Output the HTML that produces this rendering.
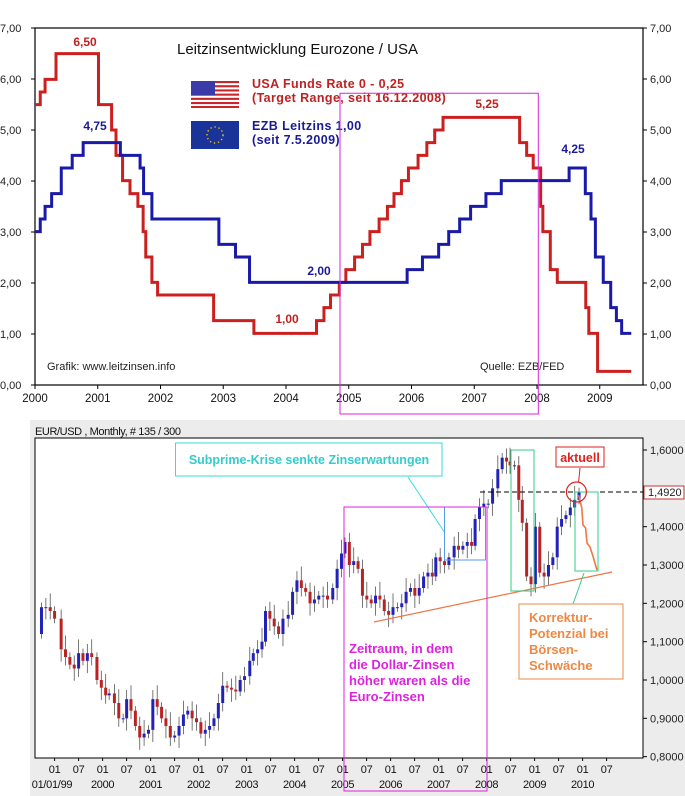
<!DOCTYPE html>
<html><head><meta charset="utf-8"><style>
html,body{margin:0;padding:0;background:#fff;}
svg{display:block;font-family:"Liberation Sans",Arial,sans-serif;}
</style></head><body>
<svg id="s" width="685" height="796" viewBox="0 0 685 796" xmlns="http://www.w3.org/2000/svg">
<rect x="0" y="0" width="685" height="796" fill="#fff"/>
<rect x="35" y="28" width="608" height="357" fill="#fff" stroke="#000" stroke-width="1.2"/>
<g font-size="11" fill="#222">
<text x="0" y="32">7,00</text><text x="0" y="83">6,00</text><text x="0" y="134">5,00</text><text x="0" y="185">4,00</text><text x="0" y="236">3,00</text><text x="0" y="287">2,00</text><text x="0" y="338">1,00</text><text x="0" y="389">0,00</text>
<text x="650" y="32">7,00</text><text x="650" y="83">6,00</text><text x="650" y="134">5,00</text><text x="650" y="185">4,00</text><text x="650" y="236">3,00</text><text x="650" y="287">2,00</text><text x="650" y="338">1,00</text><text x="650" y="389">0,00</text>
</g>
<g stroke="#000" stroke-width="1" id="ticksTop"></g>
<g font-size="11.5" fill="#111" text-anchor="middle" id="yearsTop"></g>
<g transform="translate(35,0) scale(0.4378,0.33333) translate(-80,0)" fill="none">
<path vector-effect="non-scaling-stroke" stroke="#cc2020" stroke-width="3" d="M80 314 H92 V276 H103 V238 H128 V161 H225 V314 H255 V390 H265 V466 H280 V542 H297 V581 H315 V619 H327 V695 H333 V771 H347 V847 H360 V885 H488 V962 H580 V1000 H723 V962 H740 V923 H755 V885 H775 V847 H790 V809 H810 V771 H828 V733 H845 V695 H866 V657 H885 V619 H900 V581 H917 V542 H933 V504 H955 V466 H975 V428 H993 V390 H1012 V352 H1187 V428 H1203 V466 H1218 V504 H1235 V619 H1240 V695 H1257 V809 H1273 V847 H1338 V923 H1345 V1000 H1365 V1114 H1442"/>
<path vector-effect="non-scaling-stroke" stroke="#1a1aa8" stroke-width="3" d="M80 695 H92 V657 H103 V619 H118 V581 H140 V504 H165 V466 H190 V428 H275 V466 H320 V504 H328 V581 H347 V657 H500 V733 H538 V771 H570 V847 H930 V809 H965 V771 H1002 V733 H1025 V695 H1050 V657 H1075 V619 H1110 V581 H1145 V542 H1300 V504 H1337 V581 H1350 V657 H1360 V771 H1378 V847 H1395 V923 H1408 V962 H1420 V1000 H1442"/>
</g>
<text x="177" y="54" font-size="15" fill="#111">Leitzinsentwicklung Eurozone / USA</text>
<g>
<rect x="191" y="81" width="48" height="27" fill="#fff"/>
<g fill="#c8262b"><rect x="191" y="81" width="48" height="2.1"/><rect x="191" y="85.2" width="48" height="2.1"/><rect x="191" y="89.4" width="48" height="2.1"/><rect x="191" y="93.6" width="48" height="2.1"/><rect x="191" y="97.8" width="48" height="2.1"/><rect x="191" y="102" width="48" height="2.1"/><rect x="191" y="106" width="48" height="2"/></g>
<rect x="191" y="81" width="24" height="14.5" fill="#3b3ba8"/>
</g>
<rect x="191" y="121" width="48" height="28" fill="#1a3399"/>
<circle cx="215" cy="135" r="8" fill="none" stroke="#ffdd00" stroke-width="1.3" stroke-dasharray="1.3 2.8"/>
<g font-size="12.5" font-weight="bold" letter-spacing="0.4">
<text x="252" y="88" fill="#c02020">USA Funds Rate 0 - 0,25</text>
<text x="252" y="102" fill="#c02020">(Target Range, seit 16.12.2008)</text>
<text x="252" y="130" fill="#1a1a99">EZB Leitzins 1,00</text>
<text x="252" y="144" fill="#1a1a99">(seit 7.5.2009)</text>
</g>
<g font-size="12" font-weight="bold" text-anchor="middle">
<text x="85" y="46" fill="#c02020">6,50</text>
<text x="95" y="130" fill="#1a1a99">4,75</text>
<text x="319" y="275" fill="#1a1a99">2,00</text>
<text x="287" y="323" fill="#c02020">1,00</text>
<text x="487" y="108" fill="#c02020">5,25</text>
<text x="573" y="153" fill="#1a1a99">4,25</text>
</g>
<text x="47" y="370" font-size="11" fill="#222">Grafik: www.leitzinsen.info</text>
<text x="480" y="370" font-size="11" fill="#222">Quelle: EZB/FED</text>

<rect x="30" y="420" width="655" height="376" fill="#ececec"/>
<text x="35" y="435" font-size="11" fill="#111" letter-spacing="-0.4">EUR/USD , Monthly, # 135 / 300</text>
<rect x="35" y="438" width="608" height="320" fill="#fff" stroke="#000" stroke-width="1"/>
<g id="pricelab" font-size="11" fill="#222"></g>
<g id="xlab" font-size="11" fill="#111" text-anchor="middle" letter-spacing="-0.3"></g>
<g id="candles"></g>
<line x1="374" y1="622" x2="612" y2="572" stroke="#ee7744" stroke-width="1.2"/>
<line x1="480" y1="492" x2="643" y2="492" stroke="#000" stroke-width="1" stroke-dasharray="5 3"/>
<rect x="644" y="486" width="40" height="13" fill="#fff" stroke="#cc3333" stroke-width="1"/>
<text x="648" y="496" font-size="11" fill="#222">1,4920</text>
<rect x="175.5" y="443" width="266.5" height="33" fill="#fff" stroke="#33dddd" stroke-width="1"/>
<text x="309" y="464" text-anchor="middle" font-size="12.5" font-weight="bold" fill="#33cccc">Subprime-Krise senkte Zinserwartungen</text>
<line x1="408" y1="477" x2="445" y2="533" stroke="#33dddd" stroke-width="1"/>
<rect x="444.5" y="507" width="41" height="53" fill="none" stroke="#5599ee" stroke-width="1"/>
<rect x="344" y="507" width="143" height="284" fill="none" stroke="#dd22dd" stroke-width="1"/>
<g font-size="13" font-weight="bold" fill="#dd22dd">
<text x="349" y="653">Zeitraum, in dem</text>
<text x="349" y="669">die Dollar-Zinsen</text>
<text x="349" y="685">höher waren als die</text>
<text x="349" y="701">Euro-Zinsen</text>
</g>
<rect x="511" y="450" width="23" height="141" fill="none" stroke="#33cc88" stroke-width="1"/>
<rect x="575" y="492" width="23" height="79" fill="none" stroke="#33cc88" stroke-width="1"/>
<line x1="584" y1="573" x2="573" y2="604" stroke="#33cc88" stroke-width="1"/>
<polyline fill="none" stroke="#ee7744" stroke-width="1.6" points="578.6,495 581.8,508 583,525 585.6,528 587,543 590,547 592.6,555 597,570"/>
<circle cx="576.4" cy="492" r="10" fill="none" stroke="#dd2222" stroke-width="1.2"/>
<line x1="580" y1="468" x2="578.6" y2="482" stroke="#dd2222" stroke-width="1"/>
<rect x="556" y="447" width="48" height="20" fill="#fff" stroke="#dd2222" stroke-width="1"/>
<text x="580" y="462" text-anchor="middle" font-size="12.5" font-weight="bold" fill="#dd2222">aktuell</text>
<rect x="519" y="604" width="104" height="75" fill="#fff" stroke="#ee8844" stroke-width="1"/>
<g font-size="13" font-weight="bold" fill="#ee8844">
<text x="529" y="622">Korrektur-</text>
<text x="529" y="638">Potenzial bei</text>
<text x="529" y="654">Börsen-</text>
<text x="529" y="670">Schwäche</text>
</g>
<polyline fill="none" stroke="#dd22dd" stroke-width="1" points="340,414 340,93.3 538.3,93.3 538.3,414 340,414"/>
</svg>
<script>
var NS="http://www.w3.org/2000/svg";
function el(p,t,a,txt){var e=document.createElementNS(NS,t);for(var k in a)e.setAttribute(k,a[k]);if(txt!==undefined)e.textContent=txt;document.getElementById(p).appendChild(e);return e;}
var years=["2000","2001","2002","2003","2004","2005","2006","2007","2008","2009"];
for(var i=0;i<10;i++){var x=35+62.75*i;el("ticksTop","line",{x1:x,y1:385,x2:x,y2:389});el("yearsTop","text",{x:x,y:402},years[i]);}
for(var i=0;i<8;i++){var y=28+51*i;el("ticksTop","line",{x1:31,y1:y,x2:35,y2:y});el("ticksTop","line",{x1:643,y1:y,x2:647,y2:y});}
var pl=["1,6000","1,5000","1,4000","1,3000","1,2000","1,1000","1,0000","0,9000","0,8000"];
function py(p){return 415+(105+(1.6-p)*1150)/3;}
for(var i=0;i<9;i++){var p=1.6-0.1*i,y=py(p);if(i!=1)el("pricelab","text",{x:650,y:y+4},pl[i]);el("candles","line",{x1:643,y1:y,x2:647,y2:y,stroke:"#000"});}
var yl=["01/01/99","2000","2001","2002","2003","2004","2005","2006","2007","2008","2009","2010"];
for(var i=0;i<12;i++){var x=54.6+48*i;el("xlab","text",{x:x,y:773},"01");el("xlab","text",{x:x+24,y:773},"07");
el("xlab","line",{x1:x,y1:758,x2:x,y2:761,stroke:"#000"});el("xlab","line",{x1:x+24,y1:758,x2:x+24,y2:761,stroke:"#000"});
el("xlab","text",{x:(i==0?52:x),y:788},yl[i]);}
var d=[[95,1.19],[105,1.19],[115,1.18],[125,1.16],[140,1.08],[150,1.06],[160,1.04],[170,1.03],[180,1.07],[190,1.05],[200,1.07],[210,1.06],[222,1.0],[232,0.98],[242,0.96],[250,0.965],[262,0.94],[272,0.90],[282,0.90],[290,0.95],[300,0.92],[310,0.88],[320,0.85],[330,0.86],[340,0.87],[350,0.95],[360,0.93],[370,0.90],[380,0.88],[390,0.85],[400,0.855],[410,0.88],[420,0.91],[430,0.92],[440,0.90],[450,0.89],[460,0.86],[470,0.87],[480,0.88],[490,0.90],[500,0.94],[510,0.985],[520,0.98],[530,0.975],[540,0.97],[550,1.0],[560,1.01],[572,1.05],[580,1.07],[590,1.08],[600,1.10],[608,1.18],[618,1.16],[628,1.14],[638,1.12],[648,1.16],[660,1.17],[670,1.23],[680,1.26],[690,1.24],[700,1.23],[710,1.20],[720,1.21],[730,1.22],[740,1.22],[750,1.21],[762,1.24],[772,1.29],[782,1.33],[790,1.36],[800,1.30],[810,1.31],[820,1.29],[830,1.22],[840,1.21],[850,1.20],[860,1.22],[870,1.21],[880,1.18],[890,1.17],[900,1.19],[910,1.19],[920,1.20],[930,1.23],[940,1.24],[950,1.22],[960,1.24],[970,1.27],[980,1.28],[990,1.27],[998,1.32],[1008,1.31],[1018,1.30],[1028,1.32],[1040,1.35],[1050,1.34],[1060,1.35],[1070,1.36],[1080,1.35],[1088,1.42],[1098,1.45],[1108,1.46],[1118,1.46],[1128,1.50],[1140,1.55],[1150,1.58],[1160,1.57],[1168,1.56],[1178,1.56],[1188,1.47],[1196,1.41],[1206,1.27],[1216,1.25],[1226,1.40],[1236,1.28],[1246,1.27],[1256,1.30],[1266,1.32],[1276,1.40],[1286,1.42],[1296,1.43],[1306,1.45],[1316,1.47],[1326,1.49]];
var prev=1.12;
for(var i=0;i<d.length;i++){var x=d[i][0]/2.29,c=d[i][1],o=prev;var hi=Math.max(o,c)+0.012+0.012*((i*7)%3),lo=Math.min(o,c)-0.012-0.01*((i*5)%3);
el("candles","line",{x1:x,y1:py(hi),x2:x,y2:py(lo),stroke:"#555","stroke-width":0.8});
var t=py(Math.max(o,c)),b=py(Math.min(o,c));if(b-t<1)b=t+1;
el("candles","rect",{x:x-1.5,y:t,width:3,height:b-t,fill:(c>=o?"#2222bb":"#bb2222")});prev=c;}
</script>
</body></html>
